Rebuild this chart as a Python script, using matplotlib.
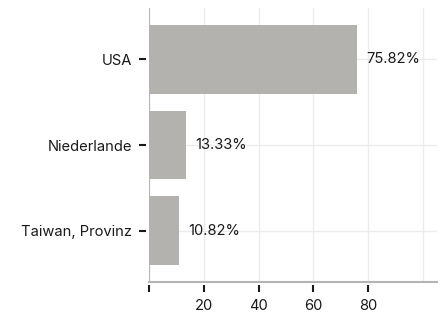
import matplotlib
matplotlib.use('Agg')
import matplotlib.pyplot as plt

plt.rcParams['font.family'] = ['Inter', 'DejaVu Sans']

# 데이터
countries = ['USA', 'Niederlande', 'Taiwan, Provinz']
shares = [75.82, 13.33, 10.82]
labels = ['75.82%', '13.33%', '10.82%']

bar_color = '#b3b2ae'
grid_color = '#ececec'
axis_color = '#b4b4b4'
text_color = '#1a1a1a'

fig = plt.figure(figsize=(4.44, 3.13), dpi=100)
ax = fig.add_axes([0.3356, 0.099, 0.648, 0.875])

ypos = list(range(len(countries)))
ax.barh(ypos, shares, height=0.8, color=bar_color, zorder=2)

# 막대 끝 값 표시
for y, v, t in zip(ypos, shares, labels):
    ax.annotate(t, (v, y), xytext=(7, 0), textcoords='offset points',
                ha='left', va='center', fontsize=10.6, color=text_color, zorder=3)

ax.set_xlim(0, 105)
ax.set_ylim(len(countries) - 0.4, -0.6)

# 그리드
for gx in [0, 20, 40, 60, 80, 100]:
    ax.axvline(gx, color=grid_color, linewidth=1, zorder=0)
for y in ypos:
    ax.axhline(y, color=grid_color, linewidth=1, zorder=0)

ax.set_xticks([0, 20, 40, 60, 80])
ax.set_xticklabels(['', '20', '40', '60', '80'])
ax.set_yticks(ypos)
ax.set_yticklabels(countries)
ax.tick_params(axis='both', length=5, width=1.5, color=text_color,
               labelsize=10.6, labelcolor=text_color, pad=5)

for s in ['top', 'right']:
    ax.spines[s].set_visible(False)
for s in ['left', 'bottom']:
    ax.spines[s].set_position(('outward', 2))
    ax.spines[s].set_visible(False)

# 축선 직접 그리기
ax.axvline(0, color=axis_color, linewidth=1.5, zorder=4)
ax.axhline(len(countries) - 0.4, color=axis_color, linewidth=1.5, zorder=4, clip_on=False)

fig.savefig('out.png', dpi=100)
